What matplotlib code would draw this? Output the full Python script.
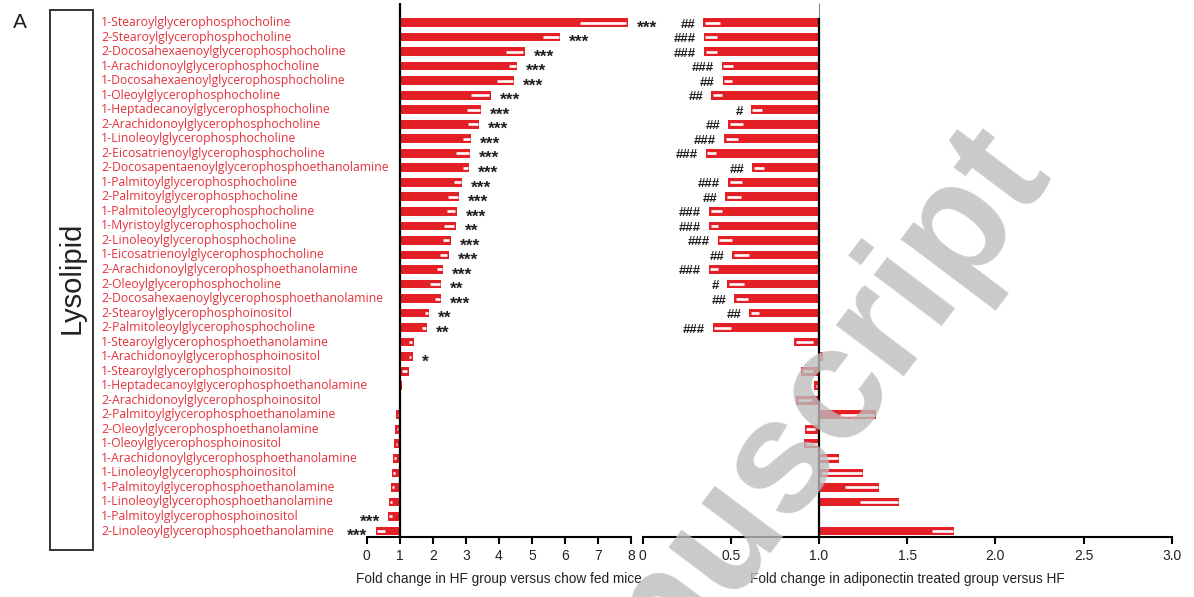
import matplotlib
matplotlib.use("Agg")
import matplotlib.pyplot as plt
from matplotlib import transforms
from matplotlib.patches import Rectangle

# ---- data -------------------------------------------------------------
labels = [
    "1-Stearoylglycerophosphocholine",
    "2-Stearoylglycerophosphocholine",
    "2-Docosahexaenoylglycerophosphocholine",
    "1-Arachidonoylglycerophosphocholine",
    "1-Docosahexaenoylglycerophosphocholine",
    "1-Oleoylglycerophosphocholine",
    "1-Heptadecanoylglycerophosphocholine",
    "2-Arachidonoylglycerophosphocholine",
    "1-Linoleoylglycerophosphocholine",
    "2-Eicosatrienoylglycerophosphocholine",
    "2-Docosapentaenoylglycerophosphoethanolamine",
    "1-Palmitoylglycerophosphocholine",
    "2-Palmitoylglycerophosphocholine",
    "1-Palmitoleoylglycerophosphocholine",
    "1-Myristoylglycerophosphocholine",
    "2-Linoleoylglycerophosphocholine",
    "1-Eicosatrienoylglycerophosphocholine",
    "2-Arachidonoylglycerophosphoethanolamine",
    "2-Oleoylglycerophosphocholine",
    "2-Docosahexaenoylglycerophosphoethanolamine",
    "2-Stearoylglycerophosphoinositol",
    "2-Palmitoleoylglycerophosphocholine",
    "1-Stearoylglycerophosphoethanolamine",
    "1-Arachidonoylglycerophosphoinositol",
    "1-Stearoylglycerophosphoinositol",
    "1-Heptadecanoylglycerophosphoethanolamine",
    "2-Arachidonoylglycerophosphoinositol",
    "2-Palmitoylglycerophosphoethanolamine",
    "2-Oleoylglycerophosphoethanolamine",
    "1-Oleoylglycerophosphoinositol",
    "1-Arachidonoylglycerophosphoethanolamine",
    "1-Linoleoylglycerophosphoinositol",
    "1-Palmitoylglycerophosphoethanolamine",
    "1-Linoleoylglycerophosphoethanolamine",
    "1-Palmitoylglycerophosphoinositol",
    "2-Linoleoylglycerophosphoethanolamine",
]

# fold change HF vs chow (mean, error) and significance
hf_mean = [7.18, 5.60, 4.50, 4.43, 4.20, 3.46, 3.25, 3.23, 3.04, 2.92,
           3.00, 2.77, 2.63, 2.58, 2.52, 2.43, 2.35, 2.22, 2.08, 2.16,
           1.83, 1.75, 1.35, 1.34, 1.17, 1.03, 1.00, 0.93, 0.90, 0.88,
           0.84, 0.81, 0.78, 0.72, 0.70, 0.41]
hf_err = [0.72, 0.26, 0.28, 0.12, 0.26, 0.30, 0.21, 0.17, 0.12, 0.21,
          0.10, 0.12, 0.17, 0.15, 0.18, 0.12, 0.13, 0.09, 0.17, 0.09,
          0.06, 0.08, 0.08, 0.06, 0.10, 0.03, 0.01, 0.04, 0.04, 0.04,
          0.05, 0.05, 0.05, 0.05, 0.06, 0.14]
hf_sig = ["***", "***", "***", "***", "***", "***", "***", "***", "***", "***",
          "***", "***", "***", "***", "**", "***", "***", "***", "**", "***",
          "**", "**", "", "*", "", "", "", "", "", "",
          "", "", "", "", "***", "***"]

# fold change adiponectin-treated vs HF (mean, error) and significance
adipo_mean = [0.390, 0.384, 0.387, 0.482, 0.480, 0.418, 0.644, 0.528, 0.501, 0.387,
              0.655, 0.524, 0.513, 0.413, 0.404, 0.465, 0.555, 0.403, 0.527, 0.559,
              0.633, 0.448, 0.914, 1.012, 0.933, 0.980, 0.914, 1.221, 0.949, 0.955,
              1.057, 1.130, 1.244, 1.343, 1.000, 1.705]
adipo_err = [0.047, 0.036, 0.037, 0.032, 0.026, 0.030, 0.031, 0.042, 0.038, 0.029,
             0.033, 0.038, 0.044, 0.035, 0.026, 0.040, 0.048, 0.027, 0.047, 0.040,
             0.028, 0.051, 0.054, 0.009, 0.035, 0.008, 0.044, 0.102, 0.030, 0.040,
             0.057, 0.120, 0.097, 0.111, 0.000, 0.062]
adipo_sig = ["##", "###", "###", "###", "##", "##", "#", "##", "###", "###",
             "##", "###", "##", "###", "###", "###", "##", "###", "#", "##",
             "##", "###", "", "", "", "", "", "", "", "",
             "", "", "", "", "", ""]

hf_ticks = [0, 1, 2, 3, 4, 5, 6, 7, 8]
hf_ticklabels = ["0", "1", "2", "3", "4", "5", "6", "7", "8"]
adipo_ticks = [0, 0.5, 1.0, 1.5, 2.0, 2.5, 3.0]
adipo_ticklabels = ["0", "0.5", "1.0", "1.5", "2.0", "2.5", "3.0"]

# ---- style ------------------------------------------------------------
BAR = "#e41f26"
LABEL_RED = "#e5323b"
SANS = ["Liberation Sans", "DejaVu Sans"]

W, H = 1194, 597
fig = plt.figure(figsize=(W / 100, H / 100), dpi=100)

n = len(labels)
rows = list(range(n))
row_top_px, row_bot_px = 22.5, 531.0
step = (row_bot_px - row_top_px) / (n - 1)
ax_top_px, ax_bot_px = 3.0, 537.0
ylim = ((n - 1) + (ax_bot_px - row_bot_px) / step, -(row_top_px - ax_top_px) / step)

L_W_PX, R_W_PX = 264.3, 529.2
axL = fig.add_axes([366.7 / W, 1 - ax_bot_px / H, L_W_PX / W, (ax_bot_px - ax_top_px) / H])
axR = fig.add_axes([642.6 / W, 1 - ax_bot_px / H, R_W_PX / W, (ax_bot_px - ax_top_px) / H])

BAR_H = 0.6


def draw_panel(ax, width_px, means, errs, sigs, xlim, ticks, ticklabels, mark_size,
               mark_dy, xlabel):
    ax.set_xlim(*xlim)
    ax.set_ylim(*ylim)
    ax.patch.set_alpha(0)
    for side in ("top", "right", "left"):
        ax.spines[side].set_visible(False)
    ax.spines["bottom"].set_linewidth(1.5)
    ax.set_yticks([])
    ax.set_xticks(ticks)
    ax.set_xticklabels(ticklabels, family=SANS, fontsize=10, color="#222222")
    ax.tick_params(axis="x", direction="out", length=5, width=1.5, pad=4)
    ax.set_xlabel(xlabel, family=SANS, fontsize=9.8, color="#222222", labelpad=6)

    inset = 1.5 * (xlim[1] - xlim[0]) / width_px   # keep a thin red rim at the bar tip
    for y, m, e, s in zip(rows, means, errs, sigs):
        ax.barh(y, m - 1, left=1, height=BAR_H, color=BAR, linewidth=0, zorder=2)
        if e > 0:
            ax.barh(y, 2 * e, left=m - e, height=BAR_H, color=BAR, linewidth=0, zorder=2)
            if m >= 1:
                ax.hlines(y, m - e, m + e - inset, color="white", linewidth=1.9, zorder=3)
            else:
                ax.hlines(y, m - e + inset, m + e, color="white", linewidth=1.9, zorder=3)
        if s:
            if m >= 1:
                ax.annotate(s, (m + e, y), xytext=(9, mark_dy), textcoords="offset pixels",
                            ha="left", va="baseline", family=SANS, fontsize=mark_size,
                            fontweight="bold", color="#1e1e1e", annotation_clip=False)
            else:
                ax.annotate(s, (m - e, y), xytext=(-8, mark_dy), textcoords="offset pixels",
                            ha="right", va="baseline", family=SANS, fontsize=mark_size,
                            fontweight="bold", color="#1e1e1e", annotation_clip=False)


draw_panel(axL, L_W_PX, hf_mean, hf_err, hf_sig, (0, 8), hf_ticks, hf_ticklabels,
           12.5, -10, "Fold change in HF group versus chow fed mice")
draw_panel(axR, R_W_PX, adipo_mean, adipo_err, adipo_sig, (0, 3.0), adipo_ticks,
           adipo_ticklabels, 9.5, -5, "Fold change in adiponectin treated group versus HF")

# reference lines at fold change = 1
axL.axvline(1, color="black", linewidth=1.6, zorder=4)
axR.vlines(1, ylim[1], -0.3, color="#888888", linewidth=0.8, zorder=4)
axR.vlines(1, -0.3, ylim[0], color="black", linewidth=1.6, zorder=4)

# compound names
lab_tr = transforms.blended_transform_factory(fig.transFigure, axL.transData)
for y, name in zip(rows, labels):
    axL.text(101 / W, y, name, transform=lab_tr, ha="left", va="center",
             family=["Open Sans", "DejaVu Sans"], fontsize=8.8, color=LABEL_RED,
             clip_on=False)

# class box
fig.patches.append(Rectangle((50 / W, 1 - 550 / H), 43 / W, 540 / H,
                             transform=fig.transFigure, fill=False,
                             edgecolor="#333333", linewidth=1.4))
fig.text(71.5 / W, 1 - 278 / H, "Lysolipid", rotation=90, ha="center", va="center",
         family=SANS, fontsize=21, color="#222222")
fig.text(12.5 / W, 1 - 22 / H, "A", ha="left", va="center", family=SANS,
         fontsize=15, color="#222222")

# diagonal watermark
fig.text(792 / W, 1 - 512 / H, "Manuscript", rotation=53, rotation_mode="anchor",
         ha="center", va="baseline", family=SANS, fontweight="bold", fontsize=116,
         color="#bdbdbd", alpha=0.8, zorder=10)

fig.savefig("out.png", dpi=100)
